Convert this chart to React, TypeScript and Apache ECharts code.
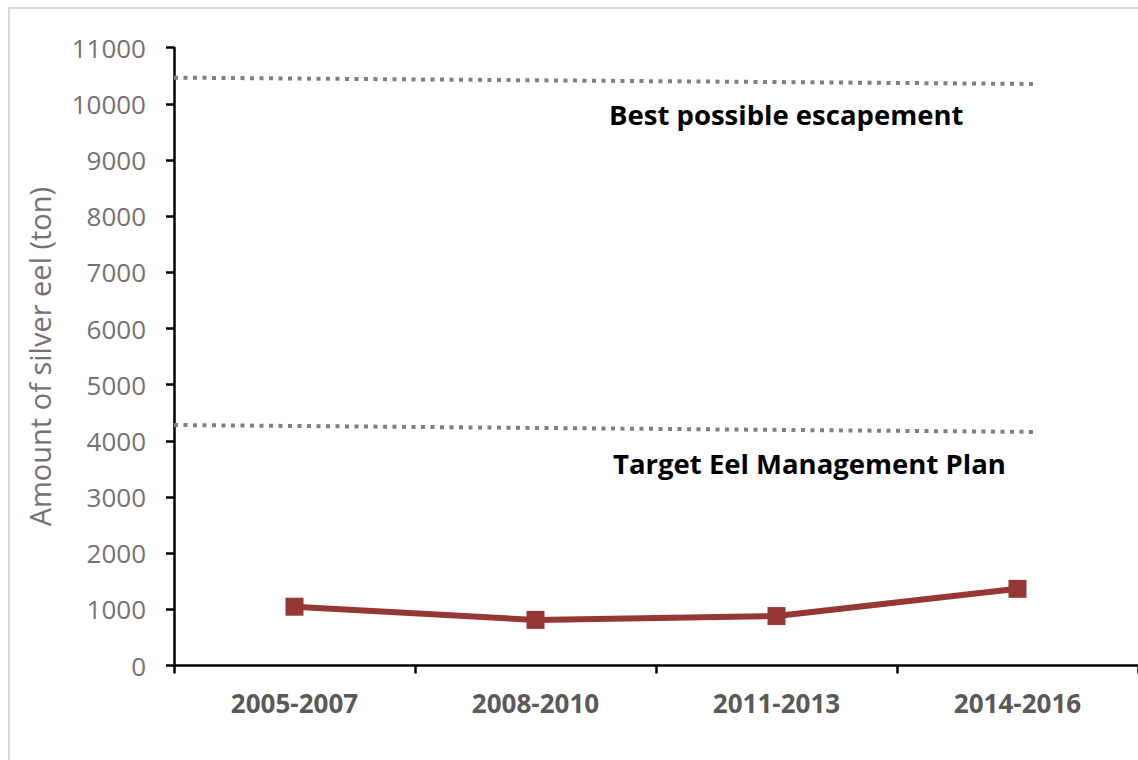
import React, { useEffect, useRef } from "react";
import * as echarts from "echarts";

const categories = ["2005-2007", "2008-2010", "2011-2013", "2014-2016"];
const silverEel = [1047, 812, 880, 1365];
// reference lines: [x position on category scale (0..4), value]
const bestEscapement = [
  [0, 10467],
  [3.58, 10354],
];
const targetEMP = [
  [0, 4282],
  [3.58, 4158],
];
const yTicks = { min: 0, max: 11000, interval: 1000 };

export default function App() {
  const ref = useRef<HTMLDivElement>(null);
  useEffect(() => {
    if (!ref.current) return;
    const chart = echarts.init(ref.current, undefined, { renderer: "svg" });
    const font = "'Open Sans', 'Noto Sans', sans-serif";
    chart.setOption({
      animation: false,
      backgroundColor: "#ffffff",
      grid: { left: 174, top: 47.7, right: -8, bottom: 94.5 },
      xAxis: [
        {
          type: "category",
          data: categories,
          boundaryGap: true,
          axisLine: { lineStyle: { color: "#000000", width: 2.5 } },
          axisTick: { show: true, length: 8, lineStyle: { color: "#000000", width: 2.5 } },
          axisLabel: {
            margin: 24,
            color: "#595959",
            fontSize: 26,
            fontWeight: "bold",
            fontFamily: font,
          },
          splitLine: { show: false },
        },
        {
          type: "value",
          min: 0,
          max: 4,
          show: false,
        },
      ],
      yAxis: {
        type: "value",
        min: yTicks.min,
        max: yTicks.max,
        interval: yTicks.interval,
        name: "Amount of silver eel (ton)",
        nameLocation: "middle",
        nameGap: 120,
        nameTextStyle: { color: "#767171", fontSize: 29, fontFamily: font },
        axisLine: { show: true, lineStyle: { color: "#000000", width: 2.5 } },
        axisTick: { show: true, length: 8, lineStyle: { color: "#000000", width: 2.5 } },
        axisLabel: {
          margin: 28,
          color: "#767171",
          fontSize: 26,
          fontFamily: font,
          formatter: (v: number) => String(v),
        },
        splitLine: { show: false },
      },
      graphic: [
        {
          type: "rect",
          z: -10,
          shape: { x: 9, y: 8, width: 1300, height: 900 },
          style: { fill: "none", stroke: "#d9d9d9", lineWidth: 2 },
          silent: true,
        },
        {
          type: "text",
          x: 609,
          y: 114,
          style: {
            text: "Best possible escapement",
            fill: "#000000",
            font: `bold 27.5px ${font}`,
            verticalAlign: "middle",
          },
        },
        {
          type: "text",
          x: 613,
          y: 463,
          style: {
            text: "Target Eel Management Plan",
            fill: "#000000",
            font: `bold 27.5px ${font}`,
            verticalAlign: "middle",
          },
        },
      ],
      series: [
        {
          type: "line",
          xAxisIndex: 1,
          data: bestEscapement,
          symbol: "none",
          lineStyle: { color: "#7f7f7f", width: 4, type: [4, 5.5] },
          silent: true,
        },
        {
          type: "line",
          xAxisIndex: 1,
          data: targetEMP,
          symbol: "none",
          lineStyle: { color: "#7f7f7f", width: 4, type: [4, 5.5] },
          silent: true,
        },
        {
          type: "line",
          xAxisIndex: 0,
          data: silverEel,
          symbol: "rect",
          symbolSize: 18,
          itemStyle: { color: "#953735" },
          lineStyle: { color: "#953735", width: 6 },
        },
      ],
    });
    return () => chart.dispose();
  }, []);
  return (
    <div
      ref={ref}
      style={{ position: "fixed", left: 0, top: 0, width: 1138, height: 760 }}
    />
  );
}
